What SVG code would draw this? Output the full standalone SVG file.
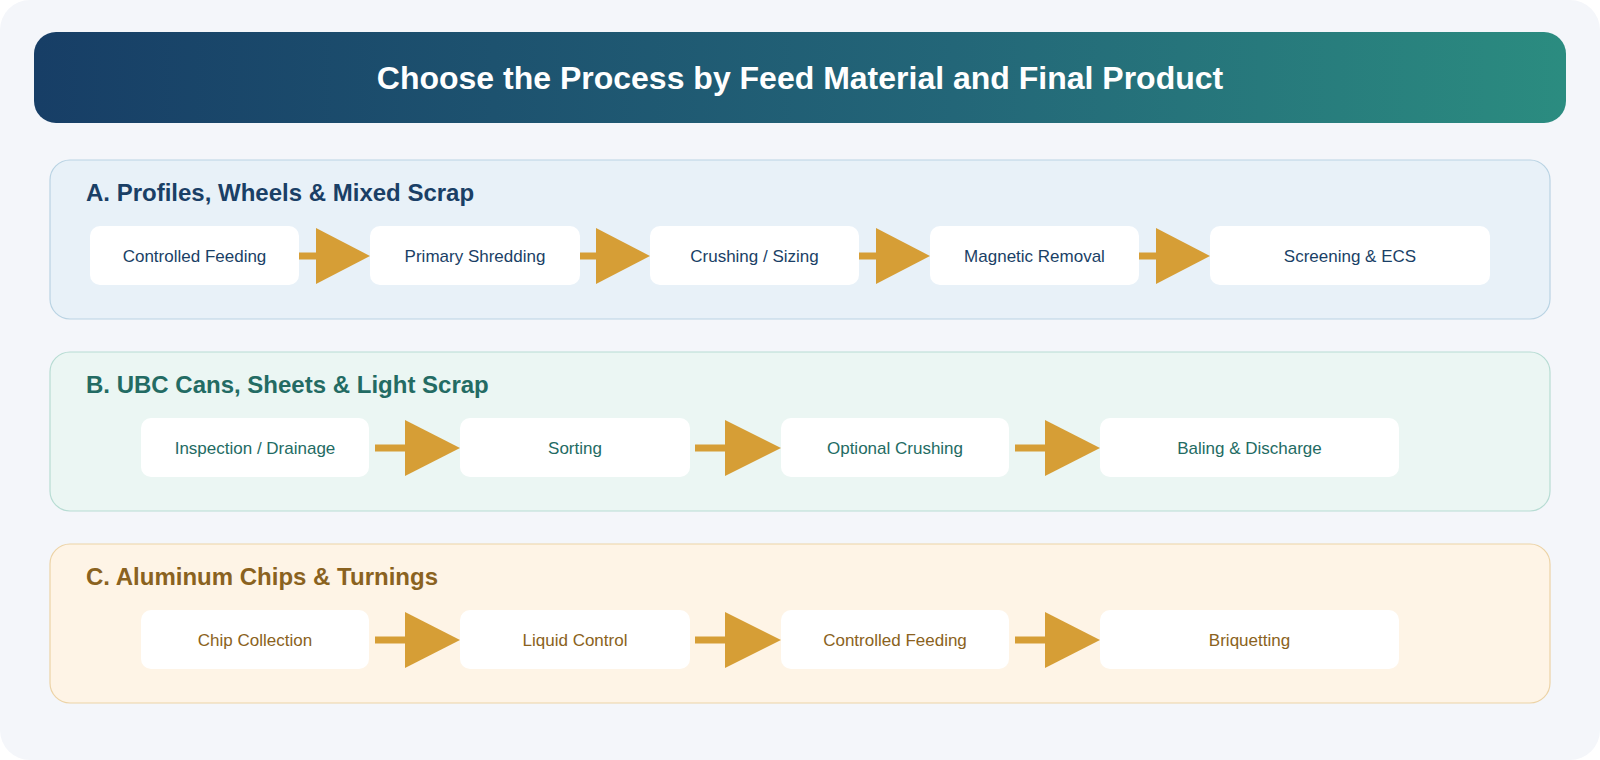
<svg xmlns="http://www.w3.org/2000/svg" width="1600" height="760" viewBox="0 0 1600 760">
<defs>
<linearGradient id="hg" x1="0" y1="0" x2="1" y2="0"><stop offset="0" stop-color="#173e66"/><stop offset="0.6" stop-color="#236678"/><stop offset="1" stop-color="#2b8c80"/></linearGradient>
<style>
text{font-family:"Liberation Sans",Arial,sans-serif}
.title{font-size:32px;font-weight:bold;fill:#fff}
.st{font-size:24px;font-weight:bold}
.nt{font-size:17px}
.node{fill:#fff}
.al{stroke:#d69e36;stroke-width:7}
.ah{fill:#d69e36}
</style>
</defs>
<rect x="0" y="0" width="1600" height="760" rx="30" fill="#f4f6fa"/>
<g id="header"><rect x="34" y="32" width="1532" height="91" rx="22" fill="url(#hg)"/>
<text class="title" x="800" y="89" text-anchor="middle">Choose the Process by Feed Material and Final Product</text></g>

<g id="secA"><rect x="50" y="160" width="1500" height="159" rx="20" fill="#e8f1f8" stroke="#b9d3e3" stroke-width="1.2"/>
<text class="st" x="86" y="201" fill="#1a3f66">A. Profiles, Wheels &amp; Mixed Scrap</text></g>
<g id="secB"><rect x="50" y="352" width="1500" height="159" rx="20" fill="#ebf6f3" stroke="#b7dcd3" stroke-width="1.2"/>
<text class="st" x="86" y="393" fill="#236b63">B. UBC Cans, Sheets &amp; Light Scrap</text></g>
<g id="secC"><rect x="50" y="544" width="1500" height="159" rx="20" fill="#fef4e6" stroke="#ecd3a6" stroke-width="1.2"/>
<text class="st" x="86" y="585" fill="#8a6220">C. Aluminum Chips &amp; Turnings</text></g>

<g id="connectors">
<line class="al" x1="299" y1="256" x2="318" y2="256"/><polygon class="ah" points="316,228 370,256 316,284"/>
<line class="al" x1="580" y1="256" x2="598" y2="256"/><polygon class="ah" points="596,228 650,256 596,284"/>
<line class="al" x1="859" y1="256" x2="878" y2="256"/><polygon class="ah" points="876,228 930,256 876,284"/>
<line class="al" x1="1139" y1="256" x2="1158" y2="256"/><polygon class="ah" points="1156,228 1210,256 1156,284"/>
<line class="al" x1="375" y1="448" x2="408" y2="448"/><polygon class="ah" points="405,420 460,448 405,476"/>
<line class="al" x1="695" y1="448" x2="728" y2="448"/><polygon class="ah" points="725,420 781,448 725,476"/>
<line class="al" x1="1015" y1="448" x2="1048" y2="448"/><polygon class="ah" points="1045,420 1100,448 1045,476"/>
<line class="al" x1="375" y1="640" x2="408" y2="640"/><polygon class="ah" points="405,612 460,640 405,668"/>
<line class="al" x1="695" y1="640" x2="728" y2="640"/><polygon class="ah" points="725,612 781,640 725,668"/>
<line class="al" x1="1015" y1="640" x2="1048" y2="640"/><polygon class="ah" points="1045,612 1100,640 1045,668"/>
</g>

<g id="a1"><rect class="node" x="90" y="226" width="209" height="59" rx="10"/><text class="nt" x="194.5" y="262" text-anchor="middle" fill="#1a3f66">Controlled Feeding</text></g>
<g id="a2"><rect class="node" x="370" y="226" width="210" height="59" rx="10"/><text class="nt" x="475" y="262" text-anchor="middle" fill="#1a3f66">Primary Shredding</text></g>
<g id="a3"><rect class="node" x="650" y="226" width="209" height="59" rx="10"/><text class="nt" x="754.5" y="262" text-anchor="middle" fill="#1a3f66">Crushing / Sizing</text></g>
<g id="a4"><rect class="node" x="930" y="226" width="209" height="59" rx="10"/><text class="nt" x="1034.5" y="262" text-anchor="middle" fill="#1a3f66">Magnetic Removal</text></g>
<g id="a5"><rect class="node" x="1210" y="226" width="280" height="59" rx="10"/><text class="nt" x="1350" y="262" text-anchor="middle" fill="#1a3f66">Screening &amp; ECS</text></g>

<g id="b1"><rect class="node" x="141" y="418" width="228" height="59" rx="10"/><text class="nt" x="255" y="454" text-anchor="middle" fill="#236b63">Inspection / Drainage</text></g>
<g id="b2"><rect class="node" x="460" y="418" width="230" height="59" rx="10"/><text class="nt" x="575" y="454" text-anchor="middle" fill="#236b63">Sorting</text></g>
<g id="b3"><rect class="node" x="781" y="418" width="228" height="59" rx="10"/><text class="nt" x="895" y="454" text-anchor="middle" fill="#236b63">Optional Crushing</text></g>
<g id="b4"><rect class="node" x="1100" y="418" width="299" height="59" rx="10"/><text class="nt" x="1249.5" y="454" text-anchor="middle" fill="#236b63">Baling &amp; Discharge</text></g>

<g id="c1"><rect class="node" x="141" y="610" width="228" height="59" rx="10"/><text class="nt" x="255" y="646" text-anchor="middle" fill="#8a6220">Chip Collection</text></g>
<g id="c2"><rect class="node" x="460" y="610" width="230" height="59" rx="10"/><text class="nt" x="575" y="646" text-anchor="middle" fill="#8a6220">Liquid Control</text></g>
<g id="c3"><rect class="node" x="781" y="610" width="228" height="59" rx="10"/><text class="nt" x="895" y="646" text-anchor="middle" fill="#8a6220">Controlled Feeding</text></g>
<g id="c4"><rect class="node" x="1100" y="610" width="299" height="59" rx="10"/><text class="nt" x="1249.5" y="646" text-anchor="middle" fill="#8a6220">Briquetting</text></g>
</svg>
